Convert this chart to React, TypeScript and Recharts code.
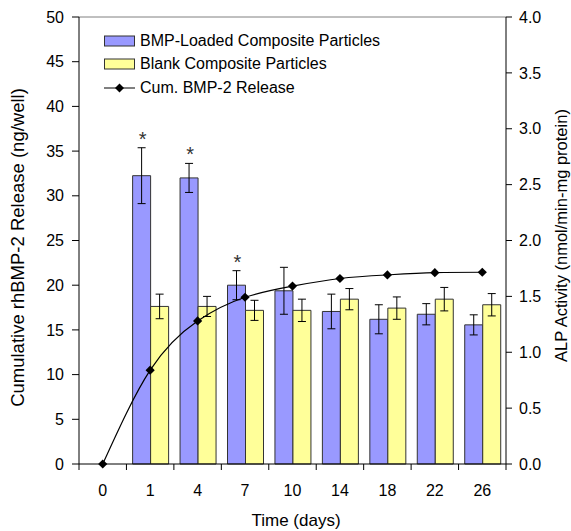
import React from "react";
import {
  ComposedChart, Bar, Line, XAxis, YAxis, ErrorBar, Legend, LabelList, ReferenceLine, Label
} from "recharts";

// Time points (days)
const days = ["0", "1", "4", "7", "10", "14", "18", "22", "26"];

// ALP activity (nmol/min-mg protein), right axis
const alpLoaded = [null, 2.58, 2.56, 1.6, 1.55, 1.365, 1.295, 1.34, 1.245];
const alpLoadedErr = [0, 0.25, 0.13, 0.13, 0.21, 0.155, 0.13, 0.095, 0.09];
const alpBlank = [null, 1.41, 1.41, 1.375, 1.375, 1.475, 1.395, 1.475, 1.425];
const alpBlankErr = [0, 0.11, 0.09, 0.09, 0.1, 0.095, 0.1, 0.105, 0.1];

// Cumulative rhBMP-2 release (ng/well), left axis
const cumRelease = [0, 10.5, 16.0, 18.65, 19.9, 20.75, 21.15, 21.4, 21.45];

// p < 0.05 vs blank particles
const significant = [false, true, true, true, false, false, false, false, false];

const leftTicks = [0, 5, 10, 15, 20, 25, 30, 35, 40, 45, 50];
const rightTicks = [0, 0.5, 1, 1.5, 2, 2.5, 3, 3.5, 4];

const data = days.map((d, i) => ({
  day: d,
  loaded: alpLoaded[i],
  loadedErr: alpLoadedErr[i],
  blank: alpBlank[i],
  blankErr: alpBlankErr[i],
  release: cumRelease[i],
}));

const W = 571;
const H = 531;
const LEFT_W = 79;
const RIGHT_W = 65;
const X_H = 67;
const TOP = 17;
const FONT = "'Liberation Sans', Arial, sans-serif";
const STEP = (W - LEFT_W - RIGHT_W) / days.length;
const AXIS_Y = H - X_H;

const DayTick = (props: any) => {
  const { x, payload, index } = props;
  const left = x - STEP / 2;
  const right = x + STEP / 2;
  return (
    <g>
      <line x1={left} y1={AXIS_Y} x2={left} y2={AXIS_Y + 6} stroke="#000" />
      {index === days.length - 1 && (
        <line x1={right} y1={AXIS_Y} x2={right} y2={AXIS_Y + 6} stroke="#000" />
      )}
      <text x={x} y={AXIS_Y + 26} dy="0.35em" textAnchor="middle" fontSize={16} fill="#000">
        {payload.value}
      </text>
    </g>
  );
};

const Diamond = (props: any) => {
  const { cx, cy } = props;
  if (cx == null || cy == null) return null;
  const r = 4.6;
  return <path d={`M${cx},${cy - r}L${cx + r},${cy}L${cx},${cy + r}L${cx - r},${cy}Z`} fill="#000" />;
};

// asterisk sits just above the top of the error bar
const Asterisk = (props: any) => {
  const vb = props.viewBox ?? props;
  const { x, y, width, height } = vb;
  const { value } = props;
  const i = alpLoaded.indexOf(value);
  if (i < 0 || !significant[i] || !height) return null;
  const pxPerUnit = height / value;
  const top = y - alpLoadedErr[i] * pxPerUnit;
  return (
    <text x={x + width / 2 + 1} y={top - 2} textAnchor="middle" fontSize={20} fill="#333">
      *
    </text>
  );
};

const LegendBox = () => {
  const rows = [
    { name: "BMP-Loaded Composite Particles", kind: "bar", fill: "#9999FF" },
    { name: "Blank Composite Particles", kind: "bar", fill: "#FFFF99" },
    { name: "Cum. BMP-2 Release", kind: "line", fill: "#000" },
  ];
  return (
    <div style={{ fontFamily: FONT, fontSize: 16, color: "#000" }}>
      {rows.map((r) => (
        <div key={r.name} style={{ display: "flex", alignItems: "center", height: 23.5 }}>
          <svg width={36} height={12} style={{ flex: "none" }}>
            {r.kind === "bar" ? (
              <rect x={0.5} y={1} width={30} height={10} fill={r.fill} stroke="#333" />
            ) : (
              <g>
                <line x1={0} y1={6} x2={31} y2={6} stroke="#000" />
                <path d="M15.5,1.5L20,6L15.5,10.5L11,6Z" fill="#000" />
              </g>
            )}
          </svg>
          <span style={{ whiteSpace: "nowrap" }}>{r.name}</span>
        </div>
      ))}
    </div>
  );
};

export default function App() {
  return (
    <div style={{ width: W, height: H }}>
      <style>{"body{margin:0}"}</style>
      <ComposedChart
        width={W}
        height={H}
        data={data}
        margin={{ top: TOP, right: 0, bottom: 0, left: 0 }}
        barCategoryGap="13%"
        barGap={0}
        style={{ fontFamily: FONT }}
      >
        <XAxis
          dataKey="day"
          height={X_H}
          stroke="#000"
          tickLine={false}
          tick={<DayTick />}
          interval={0}
        >
          <Label
            content={({ viewBox }: any) => (
              <text x={296} y={viewBox.y + 56} dy="0.35em" textAnchor="middle" fontSize={17} fill="#000">
                Time (days)
              </text>
            )}
          />
        </XAxis>
        <YAxis
          yAxisId="left"
          width={LEFT_W}
          domain={[0, 50]}
          ticks={leftTicks}
          interval={0}
          stroke="#000"
          tickSize={7}
          tickMargin={8}
          tick={{ fill: "#000", fontSize: 16 }}
        >
          <Label
            content={({ viewBox }: any) => {
              const cx = 18;
              const cy = viewBox.y + viewBox.height / 2 + 7;
              return (
                <text
                  x={cx}
                  y={cy}
                  dy="0.35em"
                  transform={`rotate(-90, ${cx}, ${cy})`}
                  textAnchor="middle"
                  fontSize={18.5}
                  fill="#000"
                >
                  Cumulative rhBMP-2 Release (ng/well)
                </text>
              );
            }}
          />
        </YAxis>
        <YAxis
          yAxisId="right"
          orientation="right"
          width={RIGHT_W}
          domain={[0, 4]}
          ticks={rightTicks}
          interval={0}
          stroke="#000"
          tickSize={6}
          tickMargin={7}
          tickFormatter={(v: number) => v.toFixed(1)}
          tick={{ fill: "#000", fontSize: 16 }}
        >
          <Label
            content={({ viewBox }: any) => {
              const cx = 561;
              const cy = viewBox.y + viewBox.height / 2 - 5;
              return (
                <text
                  x={cx}
                  y={cy}
                  dy="0.35em"
                  transform={`rotate(-90, ${cx}, ${cy})`}
                  textAnchor="middle"
                  fontSize={16.5}
                  fill="#000"
                >
                  ALP Activity (nmol/min-mg protein)
                </text>
              );
            }}
          />
        </YAxis>
        <ReferenceLine yAxisId="left" y={50} stroke="#808080" />
        <Legend
          layout="vertical"
          align="center"
          verticalAlign="middle"
          content={<LegendBox />}
          wrapperStyle={{ top: 29, left: 104, width: 300, height: 72 }}
        />
        <Bar
          yAxisId="right"
          dataKey="loaded"
          name="BMP-Loaded Composite Particles"
          fill="#9999FF"
          stroke="#333"
          strokeWidth={1}
          isAnimationActive={false}
        >
          <ErrorBar dataKey="loadedErr" width={4} stroke="#000" strokeWidth={1} />
          <LabelList dataKey="loaded" content={<Asterisk />} />
        </Bar>
        <Bar
          yAxisId="right"
          dataKey="blank"
          name="Blank Composite Particles"
          fill="#FFFF99"
          stroke="#333"
          strokeWidth={1}
          isAnimationActive={false}
        >
          <ErrorBar dataKey="blankErr" width={4} stroke="#000" strokeWidth={1} />
        </Bar>
        <Line
          yAxisId="left"
          type="natural"
          dataKey="release"
          name="Cum. BMP-2 Release"
          stroke="#000"
          strokeWidth={1.2}
          dot={<Diamond />}
          activeDot={false}
          isAnimationActive={false}
        />
      </ComposedChart>
    </div>
  );
}
